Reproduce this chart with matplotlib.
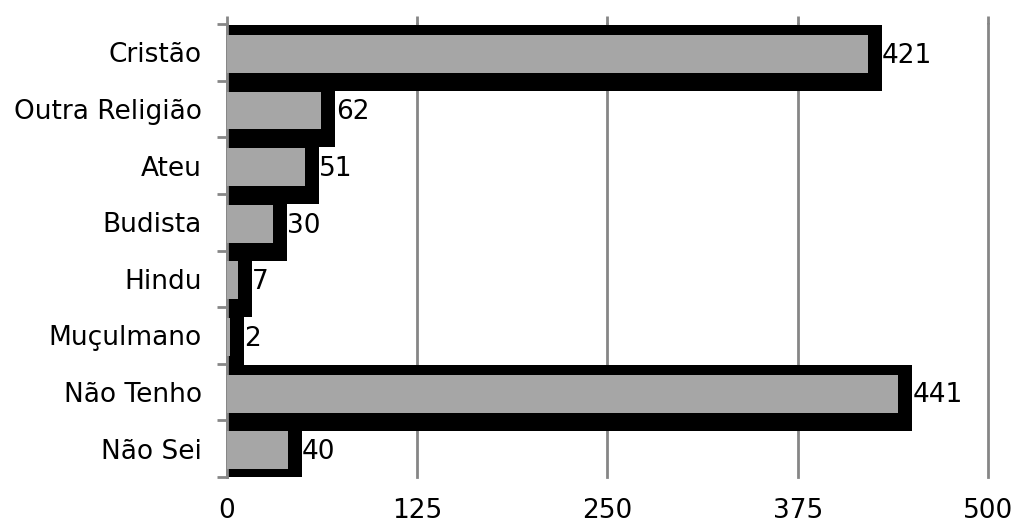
import numpy as np
import matplotlib
matplotlib.use("Agg")
import matplotlib.pyplot as plt

categories = ["Cristão", "Outra Religião", "Ateu", "Budista", "Hindu",
              "Muçulmano", "Não Tenho", "Não Sei"]
values = [421, 62, 51, 30, 7, 2, 441, 40]
xticks = [0, 125, 250, 375, 500]

fig = plt.figure(figsize=(10.16, 5.23), dpi=100)
ax = fig.add_axes([0.2234, 0.088, 0.749, 0.866])

pos = np.arange(len(categories))
vals = np.array(values, dtype=float)

# black "shadow" behind each bar, then the grey bar on top
ax.barh(pos + 0.0975, vals + 9.2 + 5, left=-5, height=1.165,
        color="black", zorder=2)
ax.barh(pos + 0.027, vals, height=0.67, color="#a6a6a6", zorder=3)

for p, v in zip(pos, values):
    ax.text(v + 9.4, p + 0.06, str(v), va="center", ha="left",
            fontsize=19, color="black", zorder=4)

ax.set_xlim(0, 500)
ax.set_ylim(7.5, -0.5)
ax.set_xticks(xticks)
ax.set_xticklabels([str(t) for t in xticks], fontsize=19)
ax.grid(axis="x", color="#868686", linewidth=2, zorder=1)
for gl in ax.get_xgridlines():
    gl.set_clip_on(False)

# category boundary ticks on the left, labels centred
ax.set_yticks(np.arange(-0.5, 8, 1.0))
ax.set_yticklabels([])
ax.set_yticks(pos, minor=True)
ax.set_yticklabels(categories, minor=True, fontsize=19)
ax.tick_params(axis="y", which="major", direction="out", length=7,
               width=2, color="#868686")
ax.tick_params(axis="y", which="minor", length=0, pad=18)
ax.tick_params(axis="x", which="both", bottom=False, top=True,
               labelbottom=True, labeltop=False, direction="out",
               length=6, width=2, color="#868686", pad=9)

for s in ["top", "right", "bottom"]:
    ax.spines[s].set_visible(False)
ax.spines["left"].set_color("#868686")
ax.spines["left"].set_linewidth(2)

fig.savefig("out.png", dpi=100)
